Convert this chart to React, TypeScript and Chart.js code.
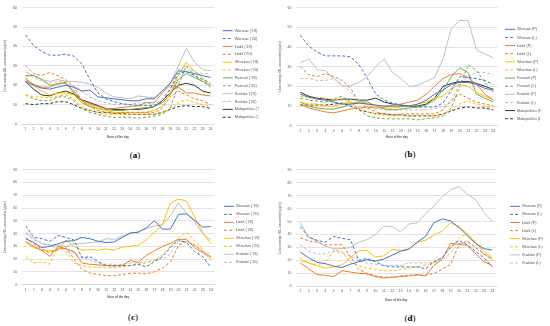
import React, { useEffect, useRef } from 'react';
import { Chart, registerables } from 'chart.js';

Chart.register(...registerables);

// ---------- categories ----------
const HOURS = ['1', '2', '3', '4', '5', '6', '7', '8', '9', '10', '11', '12', '13', '14', '15', '16', '17', '18', '19', '20', '21', '22', '23', '24'];
const Y_TITLE = '1-hour average NO\u2082 concentration [\u00b5g/m\u00b3]';
const X_TITLE = 'Hour of the day';

// ---------- panel (a): 2019 vs 2020 ----------
const aWarsaw19 = [22, 20, 18.5, 18, 19, 20, 19, 17, 17.5, 14, 13.5, 13, 12.5, 12, 12, 13, 13, 17, 21, 27.5, 27, 26, 25, 24];
const aWarsaw20 = [46, 40.5, 37.5, 35.5, 35.5, 36, 35, 31, 23, 16, 13, 11.5, 10.5, 10, 9.5, 9.5, 9.5, 11.5, 18, 26, 27, 25, 23, 21];
const aLodz19 = [23, 20.5, 19, 19, 21, 21, 17, 12, 10.5, 9, 8, 8, 8.5, 9, 9.5, 11, 11, 16, 20, 19, 16, 16, 15, 14.5];
const aLodz20 = [30, 26, 25, 26.5, 25, 23, 19, 12, 9, 7, 6, 5.5, 6, 6, 6, 6, 6, 8, 14, 17, 15, 13, 12, 10];
const aWroclaw19 = [24, 20, 17, 15, 16, 16, 15, 11, 10, 8, 7, 6, 6, 6, 6, 6, 7, 9, 16, 25, 32, 27, 24, 19];
const aWroclaw20 = [15, 14, 14, 13.5, 14.5, 15, 13, 9, 7, 6, 5, 5, 5, 5, 5, 5, 5, 6, 8, 11, 12.5, 11, 10, 9];
const aPoznan19 = [25, 25, 23, 20, 20.5, 21.5, 16, 11, 9, 8, 7.5, 7, 7, 7.5, 8, 8.5, 9, 11, 15, 23, 26, 24, 22, 20];
const aPoznan20 = [15, 13, 12, 12, 14, 14, 12, 8, 6, 5, 4, 3.5, 3.5, 3.5, 3, 3.5, 4, 5, 8, 20, 30, 25, 22, 19];
const aKrakow19 = [27, 25, 23, 22, 23, 22, 22, 21.5, 20.5, 19, 16, 14, 13.5, 13, 14.5, 14, 13.5, 17, 21, 30, 39, 32, 28, 27.5];
const aKrakow20 = [25, 24, 22, 21, 22, 22, 20, 17, 14, 12, 11, 10, 10, 10, 11, 11, 10, 13, 18, 28, 30, 27, 26, 26];
const aMalopolska19 = [22, 18, 15, 14.5, 16, 17, 15.5, 12.5, 11, 9.5, 8, 7.5, 7.5, 7.5, 7.5, 8, 9, 12, 16, 20, 21, 20, 17, 16];
const aMalopolska20 = [10.5, 10, 10.5, 10.5, 11.5, 11.5, 10, 8, 7, 6, 6, 5.5, 5.5, 5, 5, 5, 5, 6, 7.5, 9, 9.5, 9, 9, 8];

// ---------- panel (b): P vs L ----------
const bWarsawP = [16, 14.5, 13.5, 13, 12, 11, 11, 11.5, 11, 10.5, 10, 10, 10, 10, 11, 13, 16, 18, 21, 22, 22, 21, 19, 18];
const bWarsawL = [46, 40.5, 37.5, 35.5, 35.5, 35.5, 35, 31, 24, 16, 13, 11.5, 10.5, 10, 9.5, 9.5, 9.5, 11.5, 18, 25, 24.5, 24, 23, 21];
const bLodzP = [11, 9, 8, 7, 6.5, 7.5, 8.5, 9, 9.5, 9, 9.5, 10.5, 11, 12, 13, 16, 20, 24, 26, 26.5, 24.5, 21, 16, 13];
const bLodzL = [30, 26, 25, 26.5, 25, 23, 19, 12, 9, 7, 6, 5.5, 6, 6, 6, 6, 6, 8, 13, 16, 14, 12, 11, 10];
const bWroclawP = [12, 11, 11, 10, 10, 11, 12, 12, 11, 10, 9, 9, 9.5, 10, 11, 12, 14, 15, 19, 21, 20, 17, 15, 13];
const bWroclawL = [15, 14.5, 14.5, 14, 13.5, 13, 12, 9, 7, 6, 5, 5, 5, 5, 5, 5, 5, 6, 8, 11, 12.5, 11, 10, 9];
const bPoznanP = [12, 10, 9, 8.5, 8.5, 9.5, 11, 12, 12, 10, 8.5, 8, 8.5, 9, 9.5, 10.5, 13, 18, 25, 29.5, 27, 16, 14, 12];
const bPoznanL = [14, 13, 12.5, 12, 13.5, 15, 12, 8, 5, 4, 3.5, 3.5, 3.5, 3.5, 3, 3.5, 4, 5, 9, 20, 31, 28, 22, 17];
const bKrakowP = [32, 34, 28.5, 28, 24, 20, 20.5, 22, 25, 30, 34, 27, 24, 20, 20.5, 22.5, 24.5, 34, 49.5, 53.5, 53.5, 38.5, 36.5, 34.5];
const bKrakowL = [24, 24, 23, 23, 24, 21, 17, 13, 10.5, 8.5, 8, 8, 8, 8, 8, 8, 8.5, 10, 12, 22, 25, 27, 27, 26];
const bMalopolskaP = [17, 15, 14, 13.5, 13, 13.5, 13.5, 13, 13, 14, 12, 11, 10.5, 10, 10, 11, 14, 20, 21.5, 22.5, 22.5, 21.5, 20, 18.5];
const bMalopolskaL = [10.5, 10.5, 10.5, 10.5, 11, 11.5, 10, 8, 7, 6, 6, 5.5, 5.5, 5, 5, 5, 5, 6, 7.5, 9, 9.5, 9, 9, 8];

// ---------- panel (c): 2019 vs 2020 ----------
const cWarsaw19 = [36, 33, 29, 30, 32, 34, 34.5, 37, 36, 34, 33, 33.5, 37, 40.5, 41, 44.5, 50, 43.5, 43.5, 55, 55.5, 50.5, 45, 45.5];
const cWarsaw20 = [46, 37, 36, 34, 38.5, 37, 35, 21, 22, 18, 15, 15, 15, 15, 16, 14, 18, 22, 29, 35, 33, 26, 22, 14];
const cLodz19 = [34, 30, 27, 22, 30, 28, 26, 17, 16, 15.5, 15, 14.5, 15, 19, 17.5, 23, 26.5, 30, 32.5, 35.5, 35.5, 29, 25, 22];
const cLodz20 = [37, 32, 28, 25, 28, 29, 20, 12, 9, 8, 7, 7, 8, 9, 9, 8.5, 10, 13, 18, 31, 34, 31, 26, 21];
const cWroclaw19 = [33, 29, 27, 26.5, 27, 35, 30, 27, 27.5, 27, 28, 27, 29.5, 30, 31, 35, 41, 47, 64, 67, 65.5, 53, 41, 32];
const cWroclaw20 = [22, 17, 18, 16, 30, 26, 17, 15, 14, 13.5, 13.5, 13, 14, 15, 16, 17, 19, 23, 30, 37, 41, 35, 27, 19];
const cKrakow19 = [41, 36, 32, 31, 31, 30, 32, 32, 33, 33.5, 36, 35.5, 38, 40, 41.5, 44, 46, 47, 54, 64, 56, 49, 40, 35];
const cKrakow20 = [40, 35, 33, 31, 28, 27.5, 25, 22, 19, 17, 16, 16, 16, 17, 17, 18, 19, 20, 24, 34, 34, 31, 26, 24];

// ---------- panel (d): P vs L ----------
const dWarsawP = [26.5, 22, 18.5, 17.5, 15.5, 14.5, 17, 19, 20.5, 19.5, 21, 24, 27, 28.5, 34, 38.5, 49, 52, 50.5, 45.5, 39, 33, 29, 28];
const dWarsawL = [46, 38, 35.5, 34, 38.5, 37, 36, 20, 21.5, 19, 16, 15, 15, 15, 15, 13.5, 19, 22, 30, 35.5, 32, 27, 22, 15];
const dLodzP = [18, 13.5, 9, 8.5, 7.5, 12, 11, 10, 9.5, 7.5, 6.5, 7, 7.5, 8, 9, 8, 16, 21, 33, 32.5, 31.5, 25, 19, 16];
const dLodzL = [37.5, 35, 34, 32, 32, 32, 23, 13, 10, 8, 7, 7, 8, 8.5, 8.5, 8.5, 10, 13, 17, 32, 35, 30, 25, 21];
const dWroclawP = [20, 18, 16, 14, 15, 16.5, 22, 27.5, 27.5, 22.5, 23.5, 28.5, 27.5, 29, 34, 35.5, 39.5, 42.5, 49, 46, 40.5, 33.5, 27, 22];
const dWroclawL = [22, 17.5, 17, 17.5, 28, 27, 18, 16, 14, 13, 12, 12, 13, 14, 15, 16.5, 18, 22, 30, 37, 41, 34, 25, 21];
const dKrakowP = [49, 38, 35, 31, 29, 29, 30, 34, 36, 40, 46.5, 46, 42, 48, 49, 56, 62, 69, 74.5, 77, 71, 67, 57, 50];
const dKrakowL = [32, 27, 25, 25, 27, 26, 23, 20, 18, 17, 16, 16, 16, 18, 18, 18, 18.5, 20, 26, 33, 34, 30, 25, 20];

// ---------- styles ----------
const BLUE = '#4472C4';
const ORANGE = '#ED7D31';
const YELLOW = '#FFC000';
const GREEN = '#70AD47';
const GRAY = '#BFBFBF';
const BLACK = '#333333';
const TEXT = '#595959';
const GRID = '#D9D9D9';
const FONT = '"Liberation Sans", Arial, sans-serif';

type Series = { label: string; data: number[]; color: string; dashed: boolean };
type Spec = {
  key: string;
  left: number; top: number; width: number; height: number;
  yMax: number;
  padTop: number; padBottom: number; padRight: number;
  yWidth: number; xHeight: number; gap: number; legendPad: number; xTitlePad: number;
  caption: string; capX: number; capY: number;
  series: Series[];
};

const s = (label: string, data: number[], color: string, dashed: boolean): Series => ({ label, data, color, dashed });

const SPECS: Spec[] = [
  {
    key: 'a', left: 0, top: 0, width: 275, height: 146, yMax: 60,
    padTop: 7.7, padBottom: 5.73, padRight: 16.27, yWidth: 21.5, xHeight: 16.27, gap: 4.23, legendPad: 3.97, xTitlePad: 1.47,
    caption: 'a', capX: 135, capY: 154.5,
    series: [
      s('Warsaw (\u201919)', aWarsaw19, BLUE, false), s('Warsaw (\u201920)', aWarsaw20, BLUE, true),
      s('\u0141\u00f3d\u017a (\u201919)', aLodz19, ORANGE, false), s('\u0141\u00f3d\u017a (\u201920)', aLodz20, ORANGE, true),
      s('Wroc\u0142aw (\u201919)', aWroclaw19, YELLOW, false), s('Wroc\u0142aw (\u201920)', aWroclaw20, YELLOW, true),
      s('Pozna\u0144 (\u201919)', aPoznan19, GREEN, false), s('Pozna\u0144 (\u201920)', aPoznan20, GREEN, true),
      s('Krak\u00f3w (\u201919)', aKrakow19, GRAY, false), s('Krak\u00f3w (\u201920)', aKrakow20, GRAY, true),
      s('Ma\u0142opolska (\u201919)', aMalopolska19, BLACK, false), s('Ma\u0142opolska (\u201920)', aMalopolska20, BLACK, true),
    ],
  },
  {
    key: 'b', left: 275, top: 0, width: 275, height: 146, yMax: 60,
    padTop: 7.7, padBottom: 5.67, padRight: 9.23, yWidth: 21.1, xHeight: 14.63, gap: 3.27, legendPad: 4.23, xTitlePad: 1.23,
    caption: 'b', capX: 410, capY: 154.3,
    series: [
      s('Warsaw (P)', bWarsawP, BLUE, false), s('Warsaw (L)', bWarsawL, BLUE, true),
      s('\u0141\u00f3d\u017a (P)', bLodzP, ORANGE, false), s('\u0141\u00f3d\u017a (L)', bLodzL, ORANGE, true),
      s('Wroc\u0142aw (P)', bWroclawP, YELLOW, false), s('Wroc\u0142aw (L)', bWroclawL, YELLOW, true),
      s('Pozna\u0144 (P)', bPoznanP, GREEN, false), s('Pozna\u0144 (L)', bPoznanL, GREEN, true),
      s('Krak\u00f3w (P)', bKrakowP, GRAY, false), s('Krak\u00f3w (L)', bKrakowL, GRAY, true),
      s('Ma\u0142opolska (P)', bMalopolskaP, BLACK, false), s('Ma\u0142opolska (L)', bMalopolskaL, BLACK, true),
    ],
  },
  {
    key: 'c', left: 0, top: 163, width: 275, height: 146, yMax: 90,
    padTop: 6.7, padBottom: 10.1, padRight: 15.1, yWidth: 21.7, xHeight: 14.2, gap: 5.2, legendPad: 4.1, xTitlePad: -0.2,
    caption: 'c', capX: 133, capY: 317,
    series: [
      s('Warsaw (\u201919)', cWarsaw19, BLUE, false), s('Warsaw (\u201920)', cWarsaw20, BLUE, true),
      s('\u0141\u00f3d\u017a (\u201919)', cLodz19, ORANGE, false), s('\u0141\u00f3d\u017a (\u201920)', cLodz20, ORANGE, true),
      s('Wroc\u0142aw (\u201919)', cWroclaw19, YELLOW, false), s('Wroc\u0142aw (\u201920)', cWroclaw20, YELLOW, true),
      s('Krak\u00f3w (\u201919)', cKrakow19, GRAY, false), s('Krak\u00f3w (\u201920)', cKrakow20, GRAY, true),
    ],
  },
  {
    key: 'd', left: 275, top: 163, width: 275, height: 146, yMax: 90,
    padTop: 5.7, padBottom: 8.4, padRight: 4.2, yWidth: 21.1, xHeight: 14.3, gap: 9.3, legendPad: 4.2, xTitlePad: -0.9,
    caption: 'd', capX: 410, capY: 318,
    series: [
      s('Warsaw (P)', dWarsawP, BLUE, false), s('Warsaw (L)', dWarsawL, BLUE, true),
      s('\u0141\u00f3d\u017a (P)', dLodzP, ORANGE, false), s('\u0141\u00f3d\u017a (L)', dLodzL, ORANGE, true),
      s('Wroc\u0142aw (P)', dWroclawP, YELLOW, false), s('Wroc\u0142aw (L)', dWroclawL, YELLOW, true),
      s('Krak\u00f3w (P)', dKrakowP, GRAY, false), s('Krak\u00f3w (L)', dKrakowL, GRAY, true),
    ],
  },
];

function makeChart(canvas: HTMLCanvasElement, spec: Spec): Chart {
  const defaultGen = (Chart.defaults as any).plugins.legend.labels.generateLabels;
  return new Chart(canvas, {
    type: 'line',
    data: {
      labels: HOURS,
      datasets: spec.series.map((d) => ({
        label: d.label,
        data: d.data,
        borderColor: d.color,
        backgroundColor: d.color,
        borderWidth: 1,
        borderDash: d.dashed ? [3, 2] : [],
        pointRadius: 0,
        pointHoverRadius: 0,
        tension: 0,
        fill: false,
      })),
    },
    options: {
      responsive: false,
      maintainAspectRatio: false,
      animation: false,
      devicePixelRatio: 1,
      events: [],
      layout: { padding: { top: spec.padTop, bottom: spec.padBottom, left: 0, right: spec.padRight } },
      plugins: {
        tooltip: { enabled: false },
        legend: {
          position: 'right',
          align: 'center',
          maxWidth: 40,
          labels: {
            font: { family: FONT, size: 3.9 },
            color: TEXT,
            padding: spec.legendPad,
            usePointStyle: true,
            pointStyle: 'line',
            pointStyleWidth: 10,
            generateLabels: (chart: any) => {
              const items = defaultGen(chart);
              return items.map((it: any) => {
                const ds = chart.data.datasets[it.datasetIndex];
                return { ...it, lineDash: ds.borderDash || [], lineWidth: ds.borderWidth, strokeStyle: ds.borderColor, pointStyle: 'line' };
              });
            },
          },
        },
      },
      scales: {
        x: {
          type: 'category',
          offset: true,
          grid: { display: false, drawTicks: false },
          border: { display: true, color: GRID, width: 0.75 },
          ticks: { font: { family: FONT, size: 3.6 }, color: TEXT, padding: 3, maxRotation: 0, autoSkip: false },
          title: { display: true, text: X_TITLE, font: { family: FONT, size: 3, weight: 'bold' }, color: TEXT, padding: { top: 0, bottom: spec.xTitlePad } },
          afterFit: (sc: any) => { sc.height = spec.xHeight; },
        },
        y: {
          type: 'linear',
          min: 0,
          max: spec.yMax,
          ticks: { stepSize: 10, font: { family: FONT, size: 3.6 }, color: TEXT, padding: 4.5 },
          grid: { color: GRID, lineWidth: 0.75, drawTicks: false },
          border: { display: false },
          title: { display: true, text: Y_TITLE, font: { family: FONT, size: 2.8 }, color: TEXT, padding: { top: 3.3, bottom: 0 } },
          afterFit: (sc: any) => { sc.width = spec.yWidth; },
        },
        gap: {
          type: 'linear',
          position: 'right',
          display: true,
          grid: { display: false, drawTicks: false },
          border: { display: false },
          ticks: { display: false },
          afterFit: (sc: any) => { sc.width = spec.gap; },
        },
      },
    } as any,
  });
}

function Panel({ spec }: { spec: Spec }) {
  const ref = useRef<HTMLCanvasElement | null>(null);
  useEffect(() => {
    if (!ref.current) return;
    const chart = makeChart(ref.current, spec);
    return () => chart.destroy();
  }, [spec]);
  return (
    <>
      <canvas
        ref={ref}
        width={spec.width}
        height={spec.height}
        style={{ position: 'absolute', left: spec.left, top: spec.top, width: spec.width, height: spec.height }}
      />
      <div
        style={{
          position: 'absolute',
          left: spec.capX,
          top: spec.capY,
          transform: 'translate(-50%, -50%)',
          fontFamily: '"Liberation Serif", "Times New Roman", serif',
          fontSize: 9,
          color: '#000',
          whiteSpace: 'nowrap',
          lineHeight: 1,
        }}
      >
        (<b>{spec.caption}</b>)
      </div>
    </>
  );
}

export default function App() {
  return (
    <div style={{ position: 'fixed', left: 0, top: 0, width: 550, height: 326, background: '#fff', overflow: 'hidden' }}>
      {SPECS.map((sp) => (
        <Panel key={sp.key} spec={sp} />
      ))}
    </div>
  );
}
